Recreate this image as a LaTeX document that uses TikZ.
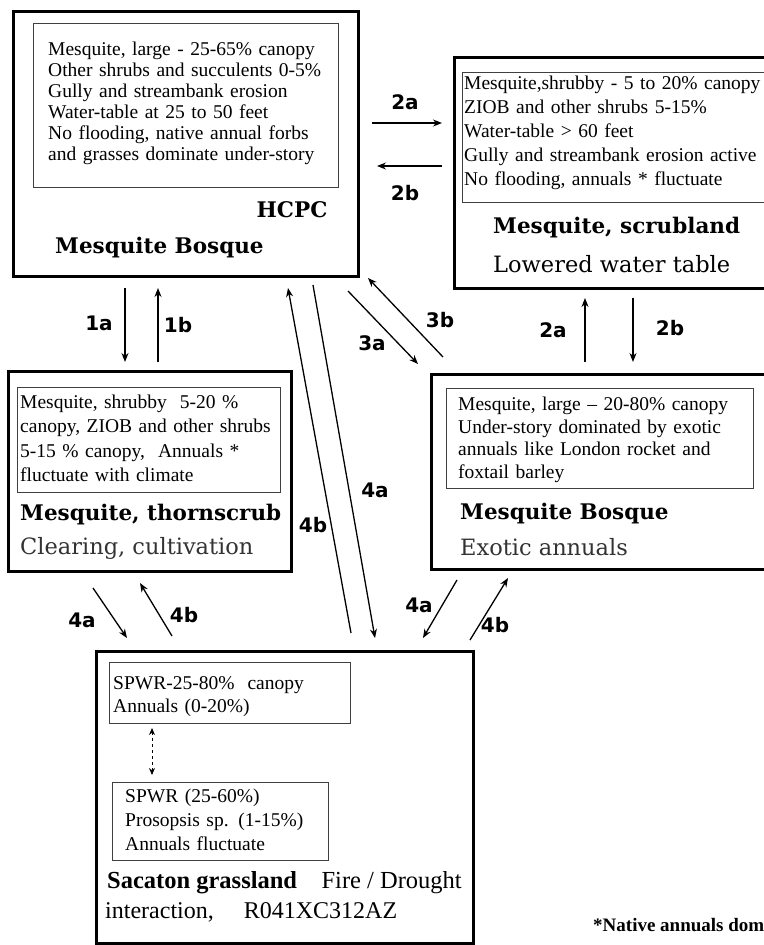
\documentclass[tikz,border=0pt]{standalone}
\usepackage{fontspec}
\setmainfont{Liberation Serif}
\newfontfamily\headfont{DejaVu Serif}
\newfontfamily\labfont{DejaVu Sans}
\usetikzlibrary{arrows.meta,positioning}
\tikzset{outerbox/.style={draw,line width=3pt,inner sep=0pt,anchor=north west},
inbox/.style={draw,black!75,line width=1.4pt,inner sep=0pt,anchor=north west},
txt/.style={font=\fontsize{19.5}{#1}\selectfont,align=left,text width=320pt,inner sep=0pt,anchor=north west},
txt/.default=21,
head/.style={font=\headfont\bfseries\fontsize{21.5}{24}\selectfont,anchor=west,inner sep=0pt},
sub/.style={font=\headfont\fontsize{22.5}{26}\selectfont,text=black!80,anchor=west,inner sep=0pt},
lab/.style={font=\labfont\bfseries\fontsize{20}{22}\selectfont,inner sep=0pt},
arr/.style={line width=1.3pt,-{Stealth[length=9pt,width=7pt]}}}

\begin{document}
\begin{tikzpicture}[x=1pt,y=-1pt]
\useasboundingbox (0,0) rectangle (763,945);
\fill[white] (0,0) rectangle (763,945);

% states
\node[outerbox,minimum width=345,minimum height=265] (hcpc) at (12,10) {};
\node[inbox,minimum width=305,minimum height=164] (hcpcin) at (33,23) {};
\node[txt=21] (hcpctxt) at (48,41.7) {Mesquite, large - 25-65\% canopy\\Other shrubs and succulents 0-5\%\\Gully and streambank erosion\\Water-table at 25 to 50 feet\\No flooding, native annual forbs\\and grasses dominate under-story};
\node[head,anchor=center] (hcpcname) at (292,210) {HCPC};
\node[head] (hcpctitle) at (55,248) {Mesquite Bosque};

\node[outerbox,minimum width=330,minimum height=231] (scrub) at (453,56) {};
\node[inbox,minimum width=320,minimum height=130] (scrubin) at (462,72) {};
\node[txt=24] (scrubtxt) at (464,75.7) {Mesquite,shrubby - 5 to 20\% canopy\\ZIOB and other shrubs 5-15\%\\Water-table > 60 feet\\Gully and streambank erosion active\\No flooding, annuals * fluctuate};
\node[head] (scrubtitle) at (493,228) {Mesquite, scrubland};
\node[sub,text=black] (scrubsub) at (493,264) {Lowered water table};

\node[outerbox,minimum width=283,minimum height=200] (thorn) at (7,370) {};
\node[inbox,minimum width=263,minimum height=105] (thornin) at (17,387) {};
\node[txt=24.5] (thorntxt) at (20,394.7) {Mesquite, shrubby \ 5-20 \%\\canopy, ZIOB and other shrubs\\5-15 \% canopy, \ Annuals *\\fluctuate with climate};
\node[head] (thorntitle) at (20,515) {Mesquite, thornscrub};
\node[sub] (thornsub) at (20,548) {Clearing, cultivation};

\node[outerbox,minimum width=350,minimum height=195] (exo) at (430,373) {};
\node[inbox,minimum width=307,minimum height=100] (exoin) at (446,388) {};
\node[txt=22.7] (exotxt) at (458,396.7) {Mesquite, large -- 20-80\% canopy\\Under-story dominated by exotic\\annuals like London rocket and\\foxtail barley};
\node[head] (exotitle) at (460,514) {Mesquite Bosque};
\node[sub] (exosub) at (460,547) {Exotic annuals};

\node[outerbox,minimum width=377,minimum height=292] (sac) at (95,650) {};
\node[inbox,minimum width=241,minimum height=61] (sacA) at (109,662) {};
\node[txt=23] (sacAtxt) at (113,676.7) {SPWR-25-80\% \ canopy\\Annuals (0-20\%)};
\node[inbox,minimum width=216,minimum height=78] (sacB) at (112,782) {};
\node[txt=24] (sacBtxt) at (125,788.7) {SPWR (25-60\%)\\Prosopsis sp. (1-15\%)\\Annuals fluctuate};
\node[anchor=west,inner sep=0pt,font=\fontsize{24.5}{28}\selectfont] (sactitle) at (107,883) {\textbf{Sacaton grassland}\quad Fire / Drought};
\node[anchor=west,inner sep=0pt,font=\fontsize{24}{28}\selectfont] (sacsub) at (105,912) {interaction, \quad R041XC312AZ};

\node[anchor=west,inner sep=0pt,font=\bfseries\fontsize{19}{21}\selectfont] (note) at (593,925) {*Native annuals dom};

% arrow ends
\coordinate (1a-s) at (125,288);  \coordinate (1a-e) at (125,362);
\coordinate (1b-s) at (158,362);  \coordinate (1b-e) at (158,288);
\coordinate (2a-s) at (372,123);  \coordinate (2a-e) at (442,123);
\coordinate (2b-s) at (442,166);  \coordinate (2b-e) at (377,166);
\coordinate (3a-s) at (348,291);  \coordinate (3a-e) at (418,364);
\coordinate (3b-s) at (443,357);  \coordinate (3b-e) at (368,278);
\coordinate (2c-s) at (585,362);  \coordinate (2c-e) at (585,298);
\coordinate (2d-s) at (633,298);  \coordinate (2d-e) at (633,362);
\coordinate (4a-s) at (313,285);  \coordinate (4a-e) at (375,638);
\coordinate (4b-s) at (351,633);  \coordinate (4b-e) at (288,288);
\coordinate (4c-s) at (93,588);   \coordinate (4c-e) at (127,638);
\coordinate (4d-s) at (172,636);  \coordinate (4d-e) at (140,583);
\coordinate (4e-s) at (457,580);  \coordinate (4e-e) at (423,638);
\coordinate (4f-s) at (470,640);  \coordinate (4f-e) at (508,578);
\coordinate (sw-s) at (152,728);  \coordinate (sw-e) at (152,775);

\draw[arr] (1a-s) -- (1a-e);
\draw[arr] (1b-s) -- (1b-e);
\draw[arr] (2a-s) -- (2a-e);
\draw[arr] (2b-s) -- (2b-e);
\draw[arr] (3a-s) -- (3a-e);
\draw[arr] (3b-s) -- (3b-e);
\draw[arr] (2c-s) -- (2c-e);
\draw[arr] (2d-s) -- (2d-e);
\draw[arr] (4a-s) -- (4a-e);
\draw[arr] (4b-s) -- (4b-e);
\draw[arr] (4c-s) -- (4c-e);
\draw[arr] (4d-s) -- (4d-e);
\draw[arr] (4e-s) -- (4e-e);
\draw[arr] (4f-s) -- (4f-e);
\draw[line width=1pt,dashed,{Stealth[length=7pt,width=6pt]}-{Stealth[length=7pt,width=6pt]}] (sw-s) -- (sw-e);

% labels
\node[lab] (l1a) at (99,323) {1a};
\node[lab] (l1b) at (178,325) {1b};
\node[lab] (l2a) at (405,102) {2a};
\node[lab] (l2b) at (405,193) {2b};
\node[lab] (l3a) at (372,343) {3a};
\node[lab] (l3b) at (440,320) {3b};
\node[lab] (l2c) at (553,330) {2a};
\node[lab] (l2d) at (670,328) {2b};
\node[lab] (l4a) at (375,490) {4a};
\node[lab] (l4b) at (313,525) {4b};
\node[lab] (l4c) at (82,620) {4a};
\node[lab] (l4d) at (184,615) {4b};
\node[lab] (l4e) at (419,605) {4a};
\node[lab] (l4f) at (495,625) {4b};
\end{tikzpicture}
\end{document}
